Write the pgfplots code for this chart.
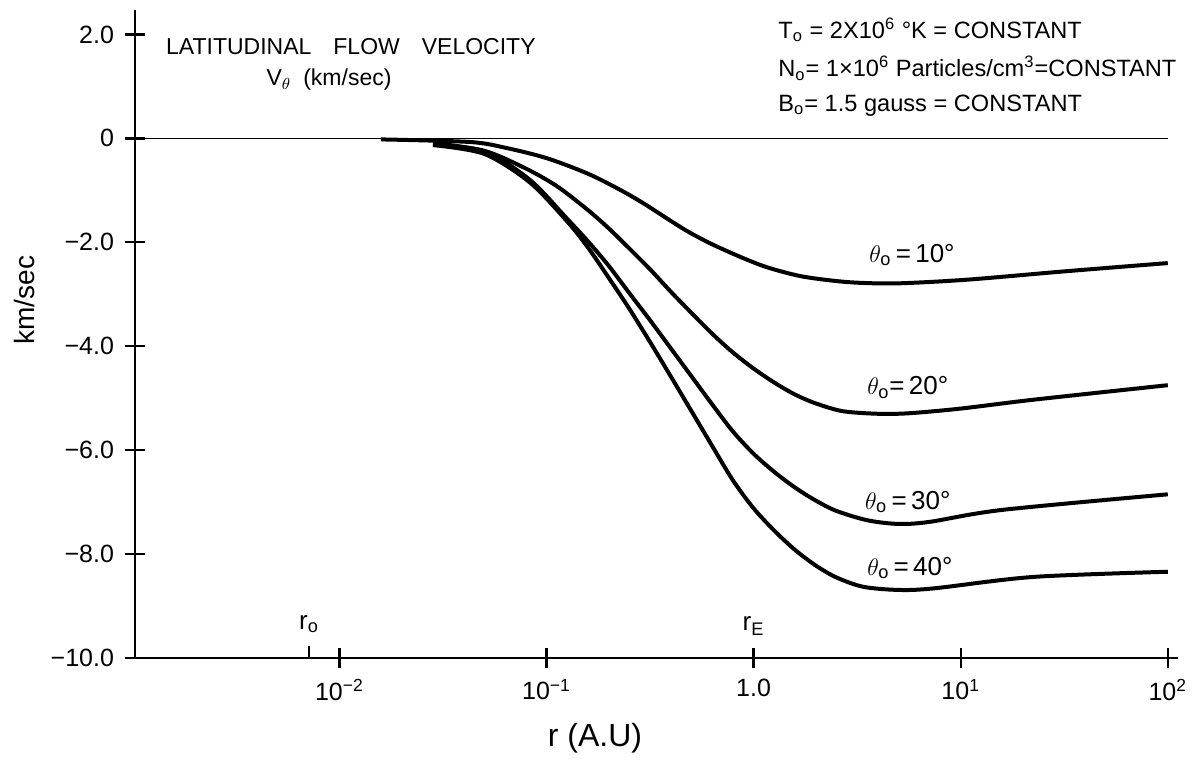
\documentclass[border=0pt]{standalone}
\usepackage{fontspec}
\setmainfont{Liberation Sans}
\usepackage{pgfplots}
\pgfplotsset{compat=1.18}

\begin{document}
\begin{tikzpicture}
\begin{axis}[
  scale only axis, width=521.5pt, height=324pt,
  xmode=log, xmin=0.00103, xmax=112, ymin=-10, ymax=2.47,
  axis lines*=left,
  axis line style={line width=1.4pt},
  tick align=center, major tick length=10pt,
  every tick/.style={line width=1.2pt, black},
  xtick={0.01,0.1,1,10,100},
  xticklabels={10\textsuperscript{−2},10\textsuperscript{−1},1.0,10\textsuperscript{1},10\textsuperscript{2}},
  xminorticks=false,
  extra x ticks={0.00713}, extra x tick labels={},
  extra x tick style={tick align=inside, major tick length=6pt},
  ytick={-10,-8,-6,-4,-2,0,2},
  yticklabels={−10.0,−8.0,−6.0,−4.0,−2.0,0,2.0},
  tick label style={font=\fontsize{12.5}{14}\selectfont},
  yticklabel style={xshift=-2pt},
  xticklabel style={yshift=-2pt},
  /pgf/number format/assume math mode=true,
  clip=false,
]
% zero line
\addplot[line width=0.8pt] coordinates {(0.00103,0) (100,0)};

% theta_o = 10
\addplot[line width=2pt, smooth] coordinates {
 (0.01585,-0.02) (0.04266,-0.07) (0.0631,-0.18) (0.1,-0.38) (0.1585,-0.68)
 (0.2265,-0.99) (0.2938,-1.25) (0.3811,-1.54) (0.4753,-1.78) (0.6166,-2.02)
 (0.8610,-2.28) (1.159,-2.48) (1.679,-2.65) (2.432,-2.74) (3.266,-2.78)
 (5.012,-2.79) (10.72,-2.72) (31.62,-2.56) (100,-2.40)};
% theta_o = 20
\addplot[line width=2pt, smooth] coordinates {
 (0.02831,-0.09) (0.05012,-0.24) (0.0794,-0.58) (0.1122,-0.92) (0.1585,-1.38)
 (0.1995,-1.73) (0.2512,-2.12) (0.3162,-2.52) (0.3981,-2.95) (0.5012,-3.36)
 (0.6310,-3.76) (0.7943,-4.12) (1,-4.43) (1.259,-4.70) (1.585,-4.93)
 (1.995,-5.10) (2.692,-5.25) (3.981,-5.30) (5.623,-5.29) (10,-5.20)
 (22.39,-5.03) (100,-4.75)};
% theta_o = 30
\addplot[line width=2pt, smooth] coordinates {
 (0.02831,-0.12) (0.05012,-0.25) (0.0832,-0.80) (0.1259,-1.55) (0.1585,-1.98)
 (0.1995,-2.45) (0.2512,-2.98) (0.3162,-3.50) (0.3981,-4.04) (0.5012,-4.58)
 (0.6310,-5.12) (0.7943,-5.64) (1,-6.07) (1.259,-6.42) (1.585,-6.72)
 (1.995,-6.97) (2.512,-7.17) (3.548,-7.35) (5.012,-7.42) (7.079,-7.38)
 (15.85,-7.15) (100,-6.85)};
% theta_o = 40
\addplot[line width=2pt, smooth] coordinates {
 (0.02831,-0.13) (0.05012,-0.30) (0.0832,-0.85) (0.1259,-1.60) (0.1585,-2.10)
 (0.1995,-2.68) (0.2512,-3.28) (0.3162,-3.92) (0.3981,-4.58) (0.5012,-5.25)
 (0.6310,-5.92) (0.7943,-6.58) (1,-7.12) (1.259,-7.55) (1.585,-7.92)
 (1.995,-8.22) (2.512,-8.45) (3.388,-8.63) (5.012,-8.69) (7.413,-8.66)
 (22.39,-8.44) (100,-8.34)};

\coordinate (bl) at (rel axis cs:0,0);
\coordinate (tr) at (rel axis cs:1,1);

% labels
\node[xshift=-55pt, rotate=90, font=\fontsize{14}{16}\selectfont] at (rel axis cs:0,0.552) {km/sec};
\node[yshift=-40pt, font=\fontsize{16}{18}\selectfont] at (rel axis cs:0.441,0) {r (A.U)};
\node[yshift=17pt, font=\fontsize{13}{14}\selectfont] at (axis cs:0.00713,-10) {r\textsubscript{o}};
\node[yshift=16pt, font=\fontsize{13}{14}\selectfont] at (axis cs:1,-10) {r\textsubscript{E}};

\node[font=\fontsize{11.5}{14}\selectfont] at (rel axis cs:0.207,0.943)
  {LATITUDINAL\hspace{11pt}FLOW\hspace{11pt}VELOCITY};
\node[font=\fontsize{11.5}{14}\selectfont] at (rel axis cs:0.186,0.892)
  {V\textsubscript{$\theta$}\hspace{6pt}(km/sec)};

\node[anchor=west, inner sep=0pt, font=\fontsize{11.8}{14}\selectfont] at (rel axis cs:0.6165,0.969)
  {T\textsubscript{o} = 2X10\textsuperscript{6} °K = CONSTANT};
\node[anchor=west, inner sep=0pt, font=\fontsize{11.8}{14}\selectfont] at (rel axis cs:0.6165,0.910)
  {N\textsubscript{o}= 1×10\textsuperscript{6} Particles/cm\textsuperscript{3}=CONSTANT};
\node[anchor=west, inner sep=0pt, font=\fontsize{11.8}{14}\selectfont] at (rel axis cs:0.6165,0.853)
  {B\textsubscript{o}= 1.5 gauss = CONSTANT};

\node[font=\fontsize{13}{14}\selectfont] at (rel axis cs:0.745,0.622) {$\theta_\mathrm{o}$\,=\,10°};
\node[font=\fontsize{13}{14}\selectfont] at (rel axis cs:0.741,0.417) {$\theta_\mathrm{o}$=\,20°};
\node[font=\fontsize{13}{14}\selectfont] at (rel axis cs:0.741,0.241) {$\theta_\mathrm{o}$\,=\,30°};
\node[font=\fontsize{13}{14}\selectfont] at (rel axis cs:0.743,0.139) {$\theta_\mathrm{o}$\,=\,40°};
\end{axis}
\pgfresetboundingbox
\path[use as bounding box] ([xshift=-67.5pt,yshift=-52pt]bl) rectangle ([xshift=12.5pt,yshift=5pt]tr);
\end{tikzpicture}
\end{document}
